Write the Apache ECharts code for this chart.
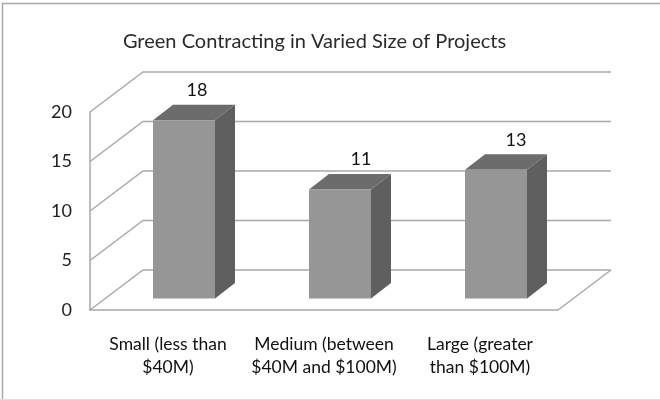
<!DOCTYPE html>
<html>
<head>
<meta charset="utf-8">
<style>html,body{margin:0;padding:0;background:#fff}#c{width:660px;height:400px}</style>
<script src="https://cdn.jsdelivr.net/npm/echarts@6/dist/echarts.min.js"></script>
</head>
<body>
<div id="c"></div>
<script>
const titleText = 'Green Contracting in Varied Size of Projects';
const categories = ['Small (less than\n$40M)', 'Medium (between\n$40M and $100M)', 'Large (greater\nthan $100M)'];
const values = [18, 11, 13];
const yTicks = [0, 5, 10, 15, 20];

const FONT = 'Lato';
const WALL = [53, -40];      // depth of the plot box
const BAR_SHIFT = [16, -11.5]; // bar front face relative to the front plane
const BAR_DEPTH = [20, -15.5];
const BAR_W = 62;
const LABEL_DX = [13, 21, 20];
const LINE = '#a9a9a9';

const chart = echarts.init(document.getElementById('c'), null, {renderer: 'canvas'});

function wallItem(params, api) {
  const v = api.value(0);
  const cs = params.coordSys;
  const y = api.coord([0, v])[1];
  const x0 = cs.x, x1 = cs.x + cs.width;
  const ls = {stroke: LINE, lineWidth: 1.5, fill: null};
  const kids = [{
    type: 'polyline',
    shape: {points: [[x0, y], [x0 + WALL[0], y + WALL[1]], [x1 + WALL[0], y + WALL[1]]]},
    style: ls, silent: true
  }];
  if (v === 0) {
    kids.push({
      type: 'line',
      shape: {x1: x1, y1: y, x2: x1 + WALL[0], y2: y + WALL[1]},
      style: ls, silent: true
    });
  }
  return {type: 'group', children: kids};
}

function barItem(params, api) {
  const i = api.value(0);
  const v = api.value(1);
  const top = api.coord([i, v]);
  const base = api.coord([i, 0]);
  const xl = top[0] - BAR_W / 2 + BAR_SHIFT[0];
  const xr = xl + BAR_W;
  const yt = top[1] + BAR_SHIFT[1];
  const yb = base[1] + BAR_SHIFT[1];
  const dx = BAR_DEPTH[0], dy = BAR_DEPTH[1];
  return {
    type: 'group',
    children: [
      {type: 'polygon', shape: {points: [[xr, yt], [xr + dx, yt + dy], [xr + dx, yb + dy], [xr, yb]]},
        style: {fill: '#5f5f5f'}, silent: true},
      {type: 'polygon', shape: {points: [[xl, yt], [xl + dx, yt + dy], [xr + dx, yt + dy], [xr, yt]]},
        style: {fill: '#6c6c6c'}, silent: true},
      {type: 'rect', shape: {x: xl, y: yt, width: BAR_W, height: yb - yt},
        style: {fill: '#969696'}, silent: true},
      {type: 'text', x: xl + BAR_W / 2 + LABEL_DX[i], y: yt + dy - 14.5,
        style: {text: String(v), fill: '#111', font: '18px ' + FONT, align: 'center', verticalAlign: 'middle'}, silent: true}
    ]
  };
}

chart.setOption({
  animation: false,
  backgroundColor: '#ffffff',
  title: {
    text: titleText, left: 309.5, top: 27, textAlign: 'center',
    textStyle: {fontFamily: FONT, fontSize: 20, fontWeight: 'normal', color: '#2a2a2a'}
  },
  graphic: [
    {type: 'polyline', shape: {points: [[2.5, 400], [2.5, 3.5], [660, 3.5]]},
      style: {stroke: '#a8a8a8', lineWidth: 1.5, fill: null}, silent: true},
    {type: 'line', shape: {x1: 0, y1: 399.5, x2: 660, y2: 399.5},
      style: {stroke: '#dddddd', lineWidth: 1}, silent: true}
  ],
  grid: {left: 90, right: 102, top: 112, bottom: 90, containLabel: false},
  xAxis: {
    type: 'category', data: categories,
    axisTick: {show: false},
    axisLine: {show: true, lineStyle: {color: LINE, width: 1.5}},
    axisLabel: {fontFamily: FONT, fontSize: 17.5, color: '#111', lineHeight: 23, margin: 23, interval: 0},
    splitLine: {show: false}
  },
  yAxis: {
    type: 'value', min: 0, max: 20, interval: 5,
    axisLine: {show: true, lineStyle: {color: LINE, width: 1.5}},
    axisTick: {show: false},
    axisLabel: {fontFamily: FONT, fontSize: 18, color: '#222', margin: 18, padding: [3, 0, 0, 0]},
    splitLine: {show: false}
  },
  series: [
    {type: 'custom', coordinateSystem: 'cartesian2d', renderItem: wallItem,
      data: yTicks.map(t => [t]), encode: {y: 0}, silent: true, z: 1},
    {type: 'custom', coordinateSystem: 'cartesian2d', renderItem: barItem,
      data: values.map((v, i) => [i, v]), encode: {x: 0, y: 1}, silent: true, z: 2}
  ]
});
</script>
</body>
</html>
